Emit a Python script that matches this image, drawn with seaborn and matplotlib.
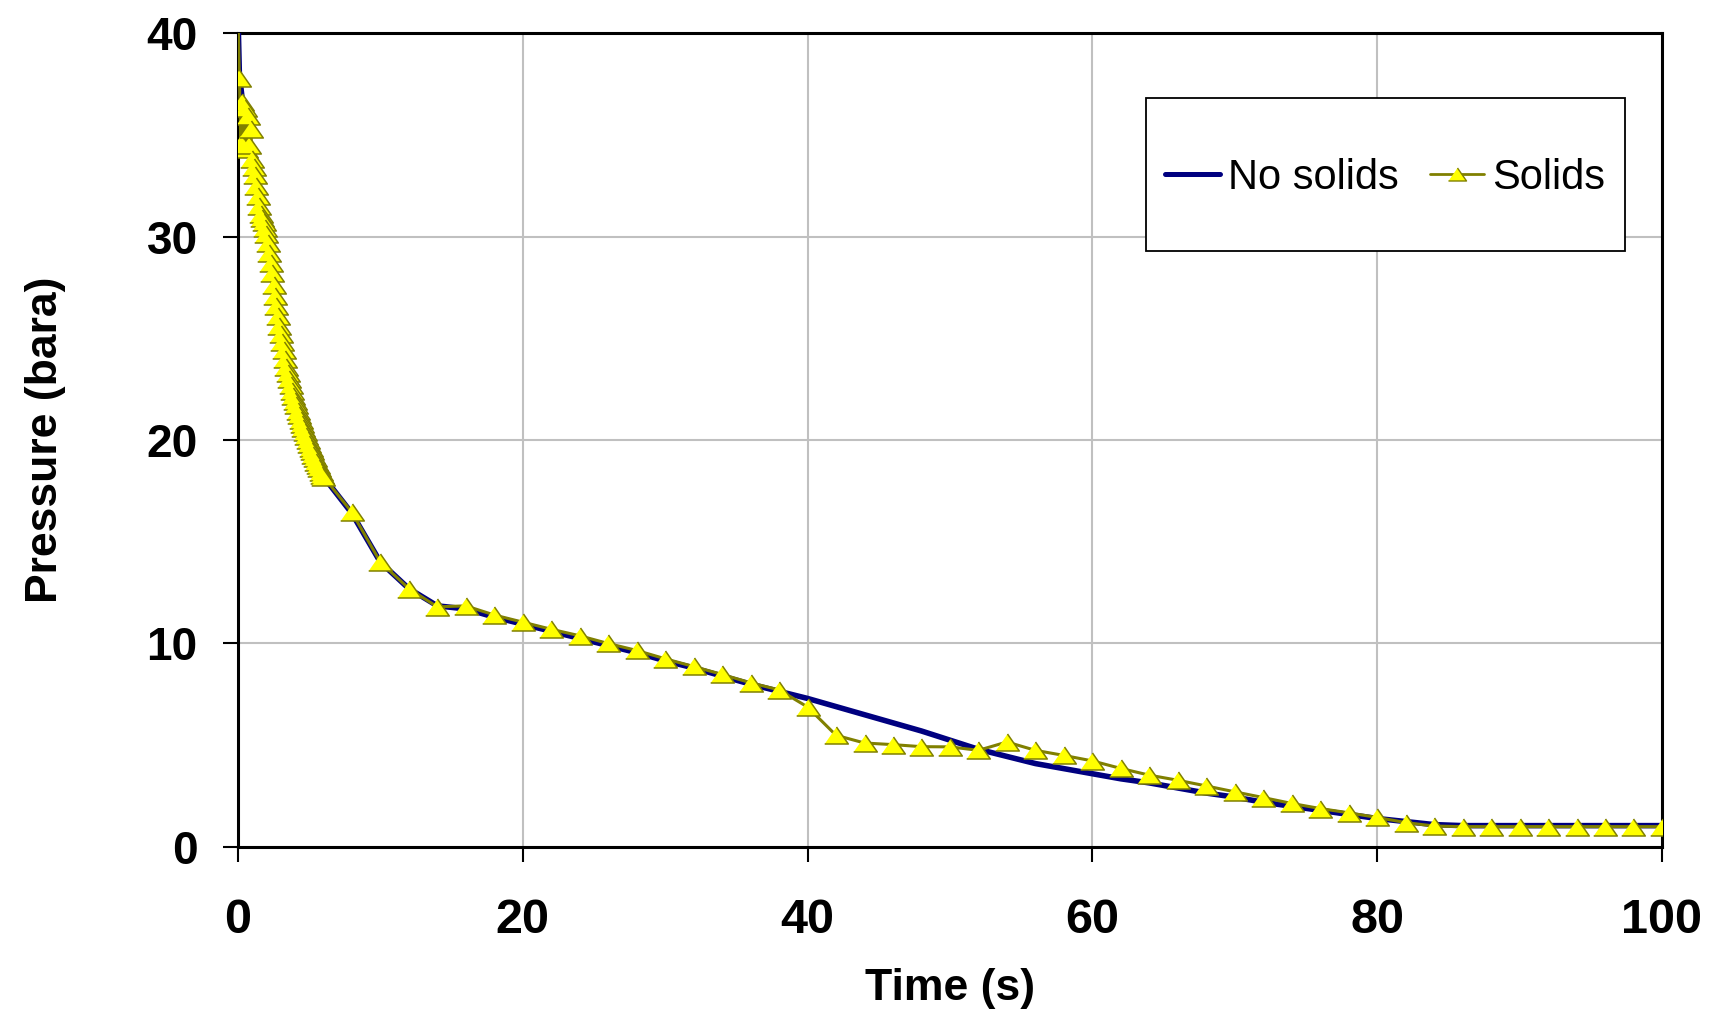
import matplotlib
matplotlib.use("Agg")
import matplotlib.pyplot as plt
from matplotlib.patches import Rectangle
from matplotlib.lines import Line2D
import numpy as np
import pandas as pd
import seaborn as sns

# ---- data -------------------------------------------------------------
# Simulation with solids: fine output (0.1 s) during the first 6 s, then every 2 s
t_solids_fine = [0.0, 0.1, 0.2, 0.3, 0.4, 0.5, 0.6, 0.7, 0.8, 0.9,
                 1.0, 1.1, 1.2, 1.3, 1.4, 1.5, 1.6, 1.7, 1.8, 1.9,
                 2.0, 2.1, 2.2, 2.3, 2.4, 2.5, 2.6, 2.7, 2.8, 2.9,
                 3.0, 3.1, 3.2, 3.3, 3.4, 3.5, 3.6, 3.7, 3.8, 3.9,
                 4.0, 4.1, 4.2, 4.3, 4.4, 4.5, 4.6, 4.7, 4.8, 4.9,
                 5.0, 5.1, 5.2, 5.3, 5.4, 5.5, 5.6, 5.7, 5.8, 5.9, 6.0]
p_solids_fine = [41.0, 37.8, 34.6, 36.6, 34.4, 36.3, 34.3, 35.9, 34.5, 35.3,
                 33.8, 33.4, 33.0, 32.5, 32.0, 31.5, 31.1, 30.9, 30.7, 30.4,
                 30.1, 29.7, 29.2, 28.7, 28.2, 27.6, 27.1, 26.6, 26.1, 25.6,
                 25.2, 24.8, 24.4, 24.0, 23.6, 23.3, 23.0, 22.7, 22.4, 22.15,
                 21.9, 21.7, 21.45, 21.25, 21.0, 20.8, 20.6, 20.4, 20.2, 20.0,
                 19.8, 19.6, 19.45, 19.25, 19.1, 18.9, 18.75, 18.6, 18.45, 18.3, 18.2]
t_solids_coarse = [8, 10, 12, 14, 16, 18, 20, 22, 24, 26, 28, 30, 32, 34, 36, 38,
                   40, 42, 44, 46, 48, 50, 52, 54, 56, 58, 60, 62, 64, 66, 68, 70,
                   72, 74, 76, 78, 80, 82, 84, 86, 88, 90, 92, 94, 96, 98, 100]
p_solids_coarse = [16.45, 14.0, 12.7, 11.8, 11.85, 11.4, 11.05, 10.7, 10.38, 10.0,
                   9.66, 9.25, 8.87, 8.48, 8.07, 7.72,
                   6.88, 5.49, 5.11, 5.03, 4.93, 4.92, 4.75, 5.16, 4.75, 4.5,
                   4.23, 3.86, 3.53, 3.28, 3.0, 2.71,
                   2.43, 2.14, 1.89, 1.68, 1.45, 1.2, 1.03, 1.0, 1.0, 1.0,
                   1.0, 1.0, 1.0, 1.0, 1.0]

# Simulation without solids
t_no_solids = [0, 0.1, 0.5, 1, 1.5, 2, 2.5, 3, 3.5, 4, 4.5, 5, 5.5, 6,
               8, 10, 12, 14, 16, 18, 20, 22, 24, 26, 28, 30, 32, 34, 36, 38,
               40, 42, 44, 46, 48, 50, 52, 54, 56, 58, 60, 62, 64, 66, 68, 70,
               72, 74, 76, 78, 80, 82, 84, 86, 88, 90, 92, 94, 96, 98, 100]
p_no_solids = [41.0, 38.0, 35.5, 33.8, 31.5, 30.1, 27.6, 25.2, 23.3, 21.9, 20.8, 19.8, 18.9, 18.2,
               16.4, 14.0, 12.7, 11.85, 11.7, 11.3, 10.95, 10.6, 10.25, 9.9, 9.55, 9.15,
               8.8, 8.4, 8.0, 7.65,
               7.3, 6.9, 6.5, 6.1, 5.7, 5.25, 4.8, 4.45, 4.1, 3.85, 3.6, 3.35, 3.15,
               2.9, 2.65, 2.45,
               2.2, 2.0, 1.8, 1.6, 1.4, 1.25, 1.1, 1.05, 1.05, 1.05, 1.05, 1.05,
               1.05, 1.05, 1.05]

x_ticks = [0, 20, 40, 60, 80, 100]
y_ticks = [0, 10, 20, 30, 40]

df_solids = pd.DataFrame({"time": t_solids_fine + t_solids_coarse,
                          "pressure": p_solids_fine + p_solids_coarse})
df_none = pd.DataFrame({"time": t_no_solids, "pressure": p_no_solids})

# ---- style ------------------------------------------------------------
sns.set_theme(style="white")
plt.rcParams["font.family"] = ["Liberation Sans", "DejaVu Sans"]
plt.rcParams.update({"text.color": "black", "axes.labelcolor": "black",
                     "xtick.color": "black", "ytick.color": "black"})

NAVY = "#000080"
OLIVE = "#808000"
YELLOW = "#FFFF00"

fig = plt.figure(figsize=(17.13, 10.10), dpi=100)
ax = fig.add_axes([0.1389, 0.1614, 0.8313, 0.8059])

tri = [(-1.0, -0.72), (1.0, -0.72), (0.0, 0.72)]

sns.lineplot(data=df_none, x="time", y="pressure", ax=ax, color=NAVY,
             linewidth=4.0, sort=False, estimator=None, zorder=3)
sns.lineplot(data=df_solids, x="time", y="pressure", ax=ax, color=OLIVE,
             linewidth=2.2, sort=False, estimator=None, marker=tri,
             markersize=17, markerfacecolor=YELLOW, markeredgecolor=OLIVE,
             markeredgewidth=1.1, zorder=4)

ax.set_xlim(0, 100)
ax.set_ylim(0, 40)
ax.set_xticks(x_ticks)
ax.set_yticks(y_ticks)
ax.grid(True, color="#C0C0C0", linewidth=1.5)
ax.set_axisbelow(True)

for s in ax.spines.values():
    s.set_color("black")
    s.set_linewidth(2.2)

ax.tick_params(axis="both", direction="out", length=11, width=1.5,
               color="black", bottom=True, left=True)
ax.tick_params(axis="x", labelsize=35, pad=26, labelcolor="black")
ax.tick_params(axis="y", labelsize=33, pad=18, labelcolor="black")
for lab in ax.get_xticklabels() + ax.get_yticklabels():
    lab.set_fontweight("bold")

ax.set_xlabel("Time (s)", fontsize=32, fontweight="bold", labelpad=18,
              color="black")
ax.set_ylabel("Pressure (bara)", fontsize=32, fontweight="bold", labelpad=58,
              color="black")

# legend box
ax.add_patch(Rectangle((0.6376, 0.732), 0.3364, 0.188, transform=ax.transAxes,
                       facecolor="white", edgecolor="black", linewidth=1.3,
                       zorder=5))
handles = [
    Line2D([], [], color=NAVY, linewidth=3.6),
    Line2D([], [], color=OLIVE, linewidth=2.0, marker=tri, markersize=13,
           markerfacecolor=YELLOW, markeredgecolor=OLIVE, markeredgewidth=1.0),
]
leg = ax.legend(handles, ["No solids", "Solids"], loc="center",
                bbox_to_anchor=(0.8058, 0.822), ncol=2, frameon=False,
                fontsize=30, handlelength=1.3, handletextpad=0.2,
                columnspacing=0.75, borderpad=0, labelcolor="black")
leg.set_zorder(6)

fig.savefig("out.png", dpi=100)
